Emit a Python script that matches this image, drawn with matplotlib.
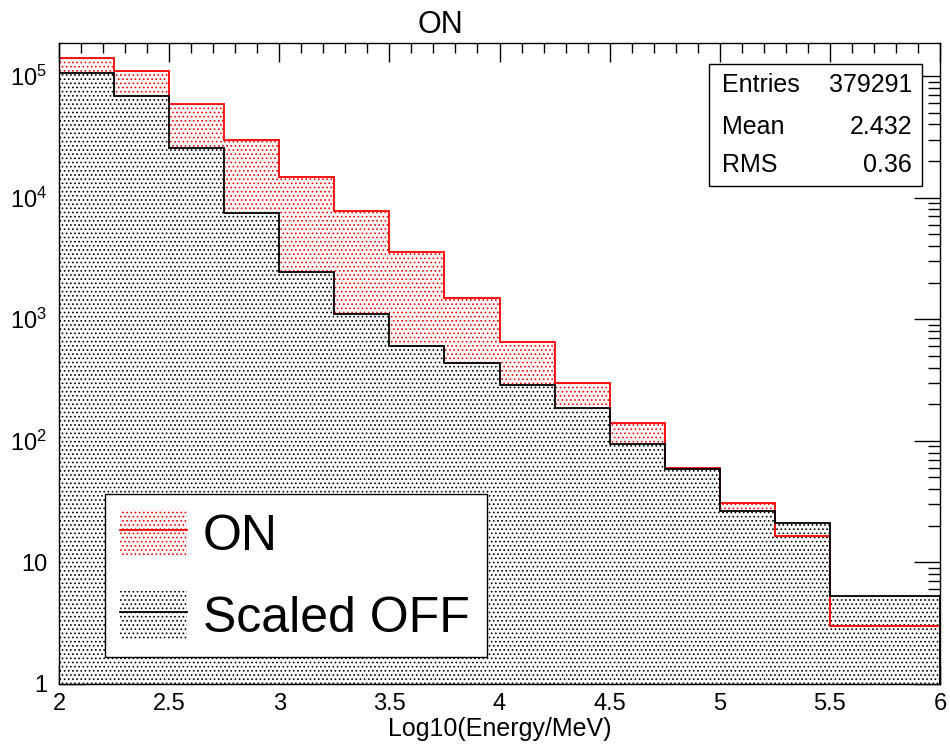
import numpy as np
import matplotlib
matplotlib.use("Agg")
import matplotlib.pyplot as plt
from matplotlib.patches import Patch, Rectangle
from matplotlib.lines import Line2D
from matplotlib.ticker import LogLocator, MultipleLocator, FixedLocator, NullFormatter

plt.rcParams["font.family"] = ["Liberation Sans", "DejaVu Sans"]
plt.rcParams["mathtext.fontset"] = "custom"
plt.rcParams["mathtext.rm"] = "Liberation Sans"
plt.rcParams["mathtext.it"] = "Liberation Sans"
plt.rcParams["hatch.linewidth"] = 0.7

# histogram data (Log10 energy bins)
bin_edges = [2.0, 2.25, 2.5, 2.75, 3.0, 3.25, 3.5, 3.75, 4.0,
             4.25, 4.5, 4.75, 5.0, 5.25, 5.5, 5.75, 6.0]
on_counts = [141000, 110000, 59000, 29800, 14800, 7760, 3570, 1490,
             650, 300, 140, 59.7, 30.8, 16.5, 3.0, 3.0]
off_counts = [106000, 68500, 25600, 7470, 2440, 1100, 602, 437,
              288, 186, 94, 58.3, 26.6, 21.2, 5.3, 5.3]

y_ticks = [1, 10, 100, 1000, 10000, 100000]
y_ticklabels = ["1", "10", r"$10^{2}$", r"$10^{3}$", r"$10^{4}$", r"$10^{5}$"]
x_ticks = [2, 2.5, 3, 3.5, 4, 4.5, 5, 5.5, 6]
x_ticklabels = ["2", "2.5", "3", "3.5", "4", "4.5", "5", "5.5", "6"]

stats_names = ["Entries", "Mean", "RMS"]
stats_values = ["379291", "2.432", "0.36"]

W, H = 950, 745
fig = plt.figure(figsize=(W / 100, H / 100), dpi=100)
ax = fig.add_axes([59 / W, 1 - 684 / H, (940 - 59) / W, (684 - 43) / H])

HATCH = "...."
# filled areas: OFF is opaque so it hides the ON dots underneath
ax.stairs(on_counts, bin_edges, baseline=1, fill=True, hatch=HATCH,
          facecolor="white", edgecolor="red", linewidth=0, zorder=1)
ax.stairs(off_counts, bin_edges, baseline=1, fill=True, hatch=HATCH,
          facecolor="white", edgecolor="black", linewidth=0, zorder=2)
# outlines on top
ax.stairs(on_counts, bin_edges, baseline=1, color="red", linewidth=1.3, zorder=3)
ax.stairs(off_counts, bin_edges, baseline=1, color="black", linewidth=1.3, zorder=4)

ax.set_yscale("log")
ax.set_xlim(2, 6)
ax.set_ylim(1, 1.87e5)

ax.xaxis.set_major_locator(FixedLocator(x_ticks))
ax.set_xticklabels(x_ticklabels)
ax.xaxis.set_minor_locator(MultipleLocator(0.1))
ax.yaxis.set_major_locator(FixedLocator(y_ticks))
ax.set_yticklabels(y_ticklabels)
ax.yaxis.set_minor_locator(LogLocator(base=10, subs=np.arange(2, 10)))
ax.yaxis.set_minor_formatter(NullFormatter())

ax.tick_params(axis="both", which="both", direction="in", top=True, right=True,
               labelsize=17, width=1)
ax.tick_params(axis="x", which="major", length=13.5, pad=6.5)
ax.tick_params(axis="x", which="minor", length=7)
ax.tick_params(axis="y", which="major", length=19, pad=8.5)
ax.tick_params(axis="y", which="minor", length=9)
for sp in ax.spines.values():
    sp.set_linewidth(1.0)
    sp.set_zorder(5)

ax.set_xlabel("Log10(Energy/MeV)", fontsize=18, va="center")
ax.xaxis.set_label_coords(0.5, -0.07)

fig.text(440 / W, 1 - 25 / H, "ON", ha="center", va="center", fontsize=22)

# legend
handles = [
    (Patch(facecolor="white", edgecolor="red", hatch=HATCH, linewidth=0),
     Line2D([], [], color="red", linewidth=1.3)),
    (Patch(facecolor="white", edgecolor="black", hatch=HATCH, linewidth=0),
     Line2D([], [], color="black", linewidth=1.3)),
]
leg = ax.legend(handles, ["ON", "Scaled OFF"], loc="lower left",
                bbox_to_anchor=(0.052, 0.042, 0.434, 0.25), mode="expand",
                fontsize=36, frameon=True, fancybox=False, framealpha=1,
                edgecolor="black", handlelength=1.34, handleheight=1.1,
                handletextpad=0.32, labelspacing=0.62, borderpad=0.3,
                borderaxespad=0)
leg.get_frame().set_linewidth(1.0)
leg.set_zorder(6)

# stats box
box = Rectangle((709 / W, 1 - 186 / H), (922 - 709) / W, (186 - 64) / H,
                transform=fig.transFigure, facecolor="white", edgecolor="black",
                linewidth=1.0, zorder=10, clip_on=False)
fig.patches.append(box)
row_y = [85, 127, 165]
for name, val, yy in zip(stats_names, stats_values, row_y):
    fig.text(722 / W, 1 - yy / H, name, ha="left", va="center", fontsize=18, zorder=11)
    fig.text(912 / W, 1 - yy / H, val, ha="right", va="center", fontsize=18, zorder=11)

fig.savefig("out.png", dpi=100, facecolor="white")
